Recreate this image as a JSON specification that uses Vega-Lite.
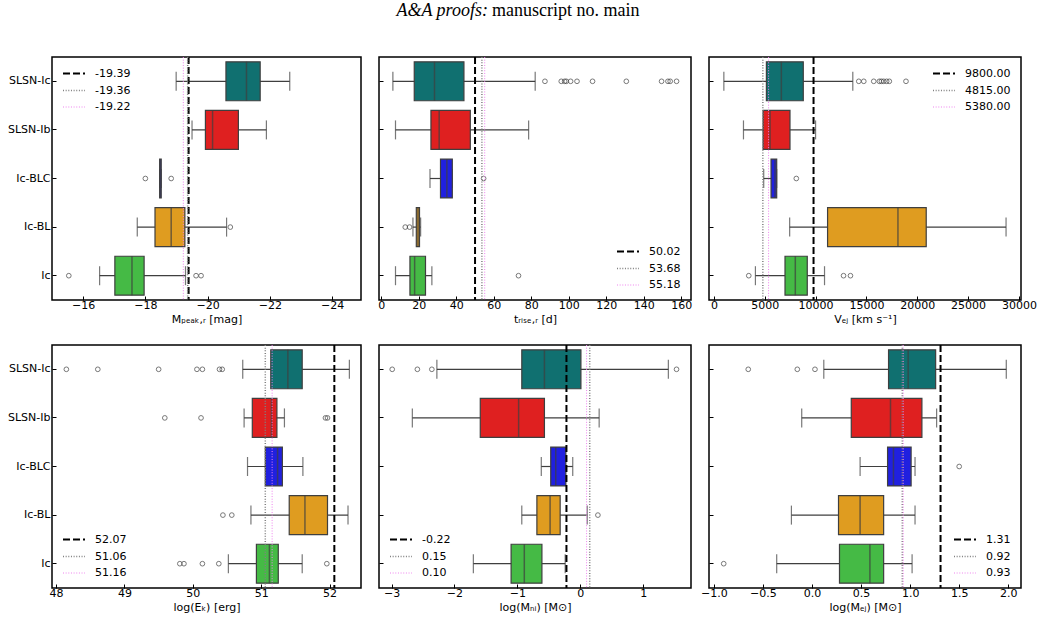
{
"$schema":"https://vega.github.io/schema/vega-lite/v6.json",
"background":"white",
"padding":{"left":6,"top":2,"right":0,"bottom":4},
"title":{"text":"A&A proofs:","font":"Liberation Serif","fontSize":18,"fontStyle":"italic","fontWeight":"normal","color":"#000","anchor":"middle","align":"right","dx":-34,"offset":-18},
"datasets":{
"stats":[
{"p":1,"g":"SLSN-Ic","lo":-18.99,"q1":-20.59,"med":-21.25,"q3":-21.69,"hi":-22.64},
{"p":1,"g":"SLSN-Ib","lo":-19.50,"q1":-19.93,"med":-20.16,"q3":-20.99,"hi":-21.89},
{"p":1,"g":"Ic-BLC","lo":-18.46,"q1":-18.46,"med":-18.48,"q3":-18.51,"hi":-18.51},
{"p":1,"g":"Ic-BL","lo":-17.74,"q1":-18.31,"med":-18.83,"q3":-19.27,"hi":-20.61},
{"p":1,"g":"Ic","lo":-16.53,"q1":-17.02,"med":-17.57,"q3":-17.96,"hi":-19.29},
{"p":2,"g":"SLSN-Ic","lo":6.2,"q1":17.6,"med":28.4,"q3":44.1,"hi":82.1},
{"p":2,"g":"SLSN-Ib","lo":7.6,"q1":26.5,"med":30.9,"q3":47.5,"hi":78.6},
{"p":2,"g":"Ic-BLC","lo":26.0,"q1":31.6,"med":35.0,"q3":37.9,"hi":37.9},
{"p":2,"g":"Ic-BL","lo":16.9,"q1":18.7,"med":19.6,"q3":20.4,"hi":21.0},
{"p":2,"g":"Ic","lo":7.6,"q1":15.3,"med":17.8,"q3":23.6,"hi":27.0},
{"p":3,"g":"SLSN-Ic","lo":980,"q1":5163,"med":6634,"q3":8791,"hi":13660},
{"p":3,"g":"SLSN-Ib","lo":2910,"q1":4837,"med":5523,"q3":7484,"hi":10000},
{"p":3,"g":"Ic-BLC","lo":4900,"q1":5621,"med":6013,"q3":6177,"hi":6177},
{"p":3,"g":"Ic-BL","lo":7451,"q1":11180,"med":18100,"q3":20880,"hi":28730},
{"p":3,"g":"Ic","lo":4085,"q1":6994,"med":8007,"q3":9183,"hi":10880},
{"p":4,"g":"SLSN-Ic","lo":50.73,"q1":51.14,"med":51.39,"q3":51.60,"hi":52.29},
{"p":4,"g":"SLSN-Ib","lo":50.75,"q1":50.87,"med":51.15,"q3":51.23,"hi":51.34},
{"p":4,"g":"Ic-BLC","lo":50.80,"q1":51.06,"med":51.24,"q3":51.31,"hi":51.61},
{"p":4,"g":"Ic-BL","lo":50.85,"q1":51.41,"med":51.64,"q3":51.97,"hi":52.27},
{"p":4,"g":"Ic","lo":50.52,"q1":50.93,"med":51.12,"q3":51.25,"hi":51.60},
{"p":5,"g":"SLSN-Ic","lo":-2.28,"q1":-0.93,"med":-0.57,"q3":0.01,"hi":1.40},
{"p":5,"g":"SLSN-Ib","lo":-2.67,"q1":-1.59,"med":-0.98,"q3":-0.57,"hi":0.30},
{"p":5,"g":"Ic-BLC","lo":-0.62,"q1":-0.47,"med":-0.39,"q3":-0.23,"hi":-0.12},
{"p":5,"g":"Ic-BL","lo":-0.93,"q1":-0.69,"med":-0.48,"q3":-0.32,"hi":0.11},
{"p":5,"g":"Ic","lo":-1.70,"q1":-1.10,"med":-0.89,"q3":-0.61,"hi":-0.24},
{"p":6,"g":"SLSN-Ic","lo":0.12,"q1":0.78,"med":0.98,"q3":1.26,"hi":1.98},
{"p":6,"g":"SLSN-Ib","lo":-0.105,"q1":0.40,"med":0.80,"q3":1.12,"hi":1.27},
{"p":6,"g":"Ic-BLC","lo":0.49,"q1":0.77,"med":0.83,"q3":1.01,"hi":1.05},
{"p":6,"g":"Ic-BL","lo":-0.21,"q1":0.27,"med":0.49,"q3":0.73,"hi":1.05},
{"p":6,"g":"Ic","lo":-0.36,"q1":0.28,"med":0.59,"q3":0.73,"hi":1.02}
],
"out":[
{"p":1,"g":"Ic-BLC","v":-18.0},{"p":1,"g":"Ic-BLC","v":-18.83},{"p":1,"g":"Ic-BL","v":-20.73},
{"p":1,"g":"Ic","v":-15.54},{"p":1,"g":"Ic","v":-19.63},{"p":1,"g":"Ic","v":-19.79},
{"p":2,"g":"SLSN-Ic","v":87.3},{"p":2,"g":"SLSN-Ic","v":96.0},{"p":2,"g":"SLSN-Ic","v":97.8},{"p":2,"g":"SLSN-Ic","v":98.7},{"p":2,"g":"SLSN-Ic","v":101.0},{"p":2,"g":"SLSN-Ic","v":104.4},{"p":2,"g":"SLSN-Ic","v":112.7},{"p":2,"g":"SLSN-Ic","v":130.7},{"p":2,"g":"SLSN-Ic","v":149.5},{"p":2,"g":"SLSN-Ic","v":152.9},{"p":2,"g":"SLSN-Ic","v":154.1},{"p":2,"g":"SLSN-Ic","v":157.5},
{"p":2,"g":"Ic-BLC","v":54.6},{"p":2,"g":"Ic-BL","v":12.8},{"p":2,"g":"Ic-BL","v":15.1},{"p":2,"g":"Ic","v":73.2},
{"p":3,"g":"SLSN-Ic","v":14250},{"p":3,"g":"SLSN-Ic","v":14740},{"p":3,"g":"SLSN-Ic","v":15720},{"p":3,"g":"SLSN-Ic","v":16270},{"p":3,"g":"SLSN-Ic","v":16470},{"p":3,"g":"SLSN-Ic","v":16700},{"p":3,"g":"SLSN-Ic","v":16990},{"p":3,"g":"SLSN-Ic","v":17250},{"p":3,"g":"SLSN-Ic","v":18890},
{"p":3,"g":"Ic-BLC","v":8105},{"p":3,"g":"Ic","v":3431},{"p":3,"g":"Ic","v":12750},{"p":3,"g":"Ic","v":13430},
{"p":4,"g":"SLSN-Ic","v":48.15},{"p":4,"g":"SLSN-Ic","v":48.61},{"p":4,"g":"SLSN-Ic","v":49.50},{"p":4,"g":"SLSN-Ic","v":50.06},{"p":4,"g":"SLSN-Ic","v":50.14},{"p":4,"g":"SLSN-Ic","v":50.39},{"p":4,"g":"SLSN-Ic","v":50.43},
{"p":4,"g":"SLSN-Ib","v":49.59},{"p":4,"g":"SLSN-Ib","v":50.12},{"p":4,"g":"SLSN-Ib","v":51.94},{"p":4,"g":"SLSN-Ib","v":51.97},
{"p":4,"g":"Ic-BL","v":50.44},{"p":4,"g":"Ic-BL","v":50.57},
{"p":4,"g":"Ic","v":49.81},{"p":4,"g":"Ic","v":49.87},{"p":4,"g":"Ic","v":50.14},{"p":4,"g":"Ic","v":50.38},{"p":4,"g":"Ic","v":51.96},
{"p":5,"g":"SLSN-Ic","v":-2.99},{"p":5,"g":"SLSN-Ic","v":-2.59},{"p":5,"g":"SLSN-Ic","v":-2.36},{"p":5,"g":"SLSN-Ic","v":1.53},{"p":5,"g":"Ic-BL","v":0.28},
{"p":6,"g":"SLSN-Ic","v":-0.65},{"p":6,"g":"SLSN-Ic","v":-0.15},{"p":6,"g":"SLSN-Ic","v":0.03},{"p":6,"g":"Ic-BLC","v":1.50},{"p":6,"g":"Ic","v":-0.90}
],
"refs":[
{"p":1,"lab":"-19.39","v":-19.39},{"p":1,"lab":"-19.36","v":-19.36},{"p":1,"lab":"-19.22","v":-19.22},
{"p":2,"lab":"50.02","v":50.02},{"p":2,"lab":"53.68","v":53.68},{"p":2,"lab":"55.18","v":55.18},
{"p":3,"lab":"9800.00","v":9800},{"p":3,"lab":"4815.00","v":4815},{"p":3,"lab":"5380.00","v":5380},
{"p":4,"lab":"52.07","v":52.07},{"p":4,"lab":"51.06","v":51.06},{"p":4,"lab":"51.16","v":51.16},
{"p":5,"lab":"-0.22","v":-0.22},{"p":5,"lab":"0.15","v":0.15},{"p":5,"lab":"0.10","v":0.10},
{"p":6,"lab":"1.31","v":1.31},{"p":6,"lab":"0.92","v":0.92},{"p":6,"lab":"0.93","v":0.93}
]
},
"vconcat":[
{"title":{"text":"manuscript no. main","font":"Liberation Serif","fontSize":18,"fontStyle":"normal","fontWeight":"normal","color":"#000","anchor":"middle","align":"left","dx":-30,"offset":35},
"hconcat":[
{"width":309,"height":243,
"layer":[
{"data":{"name":"stats"},"transform":[{"filter":"datum.p==1"}],"mark":{"type":"rule","color":"#3f3f3f","strokeWidth":1.2},"encoding":{"y":{"field":"g","type":"nominal","title":null,"scale":{"domain":["SLSN-Ic","SLSN-Ib","Ic-BLC","Ic-BL","Ic"],"paddingInner":0,"paddingOuter":0},"axis":{"labels":true}},"x":{"field":"lo","type":"quantitative","title":"Mₚₑₐₖ,ᵣ [mag]","scale":{"domain":[-24.93,-15],"reverse":true,"nice":false,"zero":false},"axis":{"values":[-16,-18,-20,-22,-24],"tickCount":12,"format":"d","labelOverlap":false}},"x2":{"field":"hi"}}},
{"data":{"name":"stats"},"transform":[{"filter":"datum.p==1"}],"mark":{"type":"tick","color":"#3f3f3f","size":19,"thickness":1.2},"encoding":{"y":{"field":"g","type":"nominal"},"x":{"field":"lo","type":"quantitative"}}},
{"data":{"name":"stats"},"transform":[{"filter":"datum.p==1"}],"mark":{"type":"tick","color":"#3f3f3f","size":19,"thickness":1.2},"encoding":{"y":{"field":"g","type":"nominal"},"x":{"field":"hi","type":"quantitative"}}},
{"data":{"name":"stats"},"transform":[{"filter":"datum.p==1"}],"mark":{"type":"bar","height":{"band":0.8},"stroke":"#3f3f3f","strokeWidth":1.2},"encoding":{"y":{"field":"g","type":"nominal"},"x":{"field":"q1","type":"quantitative"},"x2":{"field":"q3"},"fill":{"field":"g","type":"nominal","legend":null,"scale":{"domain":["SLSN-Ic","SLSN-Ib","Ic-BLC","Ic-BL","Ic"],"range":["#107070","#df2020","#2020df","#df9c20","#45ba45"]}}}},
{"data":{"name":"stats"},"transform":[{"filter":"datum.p==1"}],"mark":{"type":"tick","color":"#3f3f3f","size":39,"thickness":1.5},"encoding":{"y":{"field":"g","type":"nominal"},"x":{"field":"med","type":"quantitative"}}},
{"data":{"name":"out"},"transform":[{"filter":"datum.p==1"}],"mark":{"type":"point","shape":"circle","filled":false,"color":"#3f3f3f","size":22,"strokeWidth":1},"encoding":{"y":{"field":"g","type":"nominal"},"x":{"field":"v","type":"quantitative"}}},
{"data":{"name":"refs"},"transform":[{"filter":"datum.p==1"}],"mark":{"type":"rule"},"encoding":{"x":{"field":"v","type":"quantitative"},
"color":{"field":"lab","type":"ordinal","scale":{"domain":["-19.39","-19.36","-19.22"],"range":["#000000","#808080","#ee82ee"]},"legend":{"title":null,"orient":"top-left"}},
"strokeDash":{"field":"lab","type":"ordinal","scale":{"domain":["-19.39","-19.36","-19.22"],"range":[[7,3],[1,1.65],[1,1.65]]},"legend":{"title":null,"orient":"top-left"}},
"strokeWidth":{"field":"lab","type":"ordinal","scale":{"domain":["-19.39","-19.36","-19.22"],"range":[2,1,1]},"legend":{"title":null,"orient":"top-left"}}}}
]},
{"width":312,"height":243,
"layer":[
{"data":{"name":"stats"},"transform":[{"filter":"datum.p==2"}],"mark":{"type":"rule","color":"#3f3f3f","strokeWidth":1.2},"encoding":{"y":{"field":"g","type":"nominal","title":null,"scale":{"domain":["SLSN-Ic","SLSN-Ib","Ic-BLC","Ic-BL","Ic"],"paddingInner":0,"paddingOuter":0},"axis":{"labels":false}},"x":{"field":"lo","type":"quantitative","title":"tᵣᵢₛₑ,ᵣ [d]","scale":{"domain":[-1.2,165.2],"nice":false,"zero":false},"axis":{"values":[0,20,40,60,80,100,120,140,160],"tickCount":12,"format":"d","labelOverlap":false}},"x2":{"field":"hi"}}},
{"data":{"name":"stats"},"transform":[{"filter":"datum.p==2"}],"mark":{"type":"tick","color":"#3f3f3f","size":19,"thickness":1.2},"encoding":{"y":{"field":"g","type":"nominal"},"x":{"field":"lo","type":"quantitative"}}},
{"data":{"name":"stats"},"transform":[{"filter":"datum.p==2"}],"mark":{"type":"tick","color":"#3f3f3f","size":19,"thickness":1.2},"encoding":{"y":{"field":"g","type":"nominal"},"x":{"field":"hi","type":"quantitative"}}},
{"data":{"name":"stats"},"transform":[{"filter":"datum.p==2"}],"mark":{"type":"bar","height":{"band":0.8},"stroke":"#3f3f3f","strokeWidth":1.2},"encoding":{"y":{"field":"g","type":"nominal"},"x":{"field":"q1","type":"quantitative"},"x2":{"field":"q3"},"fill":{"field":"g","type":"nominal","legend":null,"scale":{"domain":["SLSN-Ic","SLSN-Ib","Ic-BLC","Ic-BL","Ic"],"range":["#107070","#df2020","#2020df","#df9c20","#45ba45"]}}}},
{"data":{"name":"stats"},"transform":[{"filter":"datum.p==2"}],"mark":{"type":"tick","color":"#3f3f3f","size":39,"thickness":1.5},"encoding":{"y":{"field":"g","type":"nominal"},"x":{"field":"med","type":"quantitative"}}},
{"data":{"name":"out"},"transform":[{"filter":"datum.p==2"}],"mark":{"type":"point","shape":"circle","filled":false,"color":"#3f3f3f","size":22,"strokeWidth":1},"encoding":{"y":{"field":"g","type":"nominal"},"x":{"field":"v","type":"quantitative"}}},
{"data":{"name":"refs"},"transform":[{"filter":"datum.p==2"}],"mark":{"type":"rule"},"encoding":{"x":{"field":"v","type":"quantitative"},
"color":{"field":"lab","type":"ordinal","scale":{"domain":["50.02","53.68","55.18"],"range":["#000000","#808080","#ee82ee"]},"legend":{"title":null,"orient":"bottom-right"}},
"strokeDash":{"field":"lab","type":"ordinal","scale":{"domain":["50.02","53.68","55.18"],"range":[[7,3],[1,1.65],[1,1.65]]},"legend":{"title":null,"orient":"bottom-right"}},
"strokeWidth":{"field":"lab","type":"ordinal","scale":{"domain":["50.02","53.68","55.18"],"range":[2,1,1]},"legend":{"title":null,"orient":"bottom-right"}}}}
]},
{"width":312,"height":243,
"layer":[
{"data":{"name":"stats"},"transform":[{"filter":"datum.p==3"}],"mark":{"type":"rule","color":"#3f3f3f","strokeWidth":1.2},"encoding":{"y":{"field":"g","type":"nominal","title":null,"scale":{"domain":["SLSN-Ic","SLSN-Ib","Ic-BLC","Ic-BL","Ic"],"paddingInner":0,"paddingOuter":0},"axis":{"labels":false}},"x":{"field":"lo","type":"quantitative","title":"Vₑⱼ [km s⁻¹]","scale":{"domain":[-480,30200],"nice":false,"zero":false},"axis":{"values":[0,5000,10000,15000,20000,25000,30000],"tickCount":12,"format":"d","labelOverlap":false}},"x2":{"field":"hi"}}},
{"data":{"name":"stats"},"transform":[{"filter":"datum.p==3"}],"mark":{"type":"tick","color":"#3f3f3f","size":19,"thickness":1.2},"encoding":{"y":{"field":"g","type":"nominal"},"x":{"field":"lo","type":"quantitative"}}},
{"data":{"name":"stats"},"transform":[{"filter":"datum.p==3"}],"mark":{"type":"tick","color":"#3f3f3f","size":19,"thickness":1.2},"encoding":{"y":{"field":"g","type":"nominal"},"x":{"field":"hi","type":"quantitative"}}},
{"data":{"name":"stats"},"transform":[{"filter":"datum.p==3"}],"mark":{"type":"bar","height":{"band":0.8},"stroke":"#3f3f3f","strokeWidth":1.2},"encoding":{"y":{"field":"g","type":"nominal"},"x":{"field":"q1","type":"quantitative"},"x2":{"field":"q3"},"fill":{"field":"g","type":"nominal","legend":null,"scale":{"domain":["SLSN-Ic","SLSN-Ib","Ic-BLC","Ic-BL","Ic"],"range":["#107070","#df2020","#2020df","#df9c20","#45ba45"]}}}},
{"data":{"name":"stats"},"transform":[{"filter":"datum.p==3"}],"mark":{"type":"tick","color":"#3f3f3f","size":39,"thickness":1.5},"encoding":{"y":{"field":"g","type":"nominal"},"x":{"field":"med","type":"quantitative"}}},
{"data":{"name":"out"},"transform":[{"filter":"datum.p==3"}],"mark":{"type":"point","shape":"circle","filled":false,"color":"#3f3f3f","size":22,"strokeWidth":1},"encoding":{"y":{"field":"g","type":"nominal"},"x":{"field":"v","type":"quantitative"}}},
{"data":{"name":"refs"},"transform":[{"filter":"datum.p==3"}],"mark":{"type":"rule"},"encoding":{"x":{"field":"v","type":"quantitative"},
"color":{"field":"lab","type":"ordinal","scale":{"domain":["9800.00","4815.00","5380.00"],"range":["#000000","#808080","#ee82ee"]},"legend":{"title":null,"orient":"top-right"}},
"strokeDash":{"field":"lab","type":"ordinal","scale":{"domain":["9800.00","4815.00","5380.00"],"range":[[7,3],[1,1.65],[1,1.65]]},"legend":{"title":null,"orient":"top-right"}},
"strokeWidth":{"field":"lab","type":"ordinal","scale":{"domain":["9800.00","4815.00","5380.00"],"range":[2,1,1]},"legend":{"title":null,"orient":"top-right"}}}}
]}
],"spacing":18,"bounds":"flush",
"resolve":{"scale":{"x":"independent","y":"independent","fill":"independent","color":"independent","strokeDash":"independent","strokeWidth":"independent"}}},
{"hconcat":[
{"width":309,"height":243,
"layer":[
{"data":{"name":"stats"},"transform":[{"filter":"datum.p==4"}],"mark":{"type":"rule","color":"#3f3f3f","strokeWidth":1.2},"encoding":{"y":{"field":"g","type":"nominal","title":null,"scale":{"domain":["SLSN-Ic","SLSN-Ib","Ic-BLC","Ic-BL","Ic"],"paddingInner":0,"paddingOuter":0},"axis":{"labels":true}},"x":{"field":"lo","type":"quantitative","title":"log(Eₖ) [erg]","scale":{"domain":[47.94,52.46],"nice":false,"zero":false},"axis":{"values":[48,49,50,51,52],"tickCount":12,"format":"d","labelOverlap":false}},"x2":{"field":"hi"}}},
{"data":{"name":"stats"},"transform":[{"filter":"datum.p==4"}],"mark":{"type":"tick","color":"#3f3f3f","size":19,"thickness":1.2},"encoding":{"y":{"field":"g","type":"nominal"},"x":{"field":"lo","type":"quantitative"}}},
{"data":{"name":"stats"},"transform":[{"filter":"datum.p==4"}],"mark":{"type":"tick","color":"#3f3f3f","size":19,"thickness":1.2},"encoding":{"y":{"field":"g","type":"nominal"},"x":{"field":"hi","type":"quantitative"}}},
{"data":{"name":"stats"},"transform":[{"filter":"datum.p==4"}],"mark":{"type":"bar","height":{"band":0.8},"stroke":"#3f3f3f","strokeWidth":1.2},"encoding":{"y":{"field":"g","type":"nominal"},"x":{"field":"q1","type":"quantitative"},"x2":{"field":"q3"},"fill":{"field":"g","type":"nominal","legend":null,"scale":{"domain":["SLSN-Ic","SLSN-Ib","Ic-BLC","Ic-BL","Ic"],"range":["#107070","#df2020","#2020df","#df9c20","#45ba45"]}}}},
{"data":{"name":"stats"},"transform":[{"filter":"datum.p==4"}],"mark":{"type":"tick","color":"#3f3f3f","size":39,"thickness":1.5},"encoding":{"y":{"field":"g","type":"nominal"},"x":{"field":"med","type":"quantitative"}}},
{"data":{"name":"out"},"transform":[{"filter":"datum.p==4"}],"mark":{"type":"point","shape":"circle","filled":false,"color":"#3f3f3f","size":22,"strokeWidth":1},"encoding":{"y":{"field":"g","type":"nominal"},"x":{"field":"v","type":"quantitative"}}},
{"data":{"name":"refs"},"transform":[{"filter":"datum.p==4"}],"mark":{"type":"rule"},"encoding":{"x":{"field":"v","type":"quantitative"},
"color":{"field":"lab","type":"ordinal","scale":{"domain":["52.07","51.06","51.16"],"range":["#000000","#808080","#ee82ee"]},"legend":{"title":null,"orient":"bottom-left"}},
"strokeDash":{"field":"lab","type":"ordinal","scale":{"domain":["52.07","51.06","51.16"],"range":[[7,3],[1,1.65],[1,1.65]]},"legend":{"title":null,"orient":"bottom-left"}},
"strokeWidth":{"field":"lab","type":"ordinal","scale":{"domain":["52.07","51.06","51.16"],"range":[2,1,1]},"legend":{"title":null,"orient":"bottom-left"}}}}
]},
{"width":312,"height":243,
"layer":[
{"data":{"name":"stats"},"transform":[{"filter":"datum.p==5"}],"mark":{"type":"rule","color":"#3f3f3f","strokeWidth":1.2},"encoding":{"y":{"field":"g","type":"nominal","title":null,"scale":{"domain":["SLSN-Ic","SLSN-Ib","Ic-BLC","Ic-BL","Ic"],"paddingInner":0,"paddingOuter":0},"axis":{"labels":false}},"x":{"field":"lo","type":"quantitative","title":"log(Mₙᵢ) [M⊙]","scale":{"domain":[-3.2,1.76],"nice":false,"zero":false},"axis":{"values":[-3,-2,-1,0,1],"tickCount":12,"format":"d","labelOverlap":false}},"x2":{"field":"hi"}}},
{"data":{"name":"stats"},"transform":[{"filter":"datum.p==5"}],"mark":{"type":"tick","color":"#3f3f3f","size":19,"thickness":1.2},"encoding":{"y":{"field":"g","type":"nominal"},"x":{"field":"lo","type":"quantitative"}}},
{"data":{"name":"stats"},"transform":[{"filter":"datum.p==5"}],"mark":{"type":"tick","color":"#3f3f3f","size":19,"thickness":1.2},"encoding":{"y":{"field":"g","type":"nominal"},"x":{"field":"hi","type":"quantitative"}}},
{"data":{"name":"stats"},"transform":[{"filter":"datum.p==5"}],"mark":{"type":"bar","height":{"band":0.8},"stroke":"#3f3f3f","strokeWidth":1.2},"encoding":{"y":{"field":"g","type":"nominal"},"x":{"field":"q1","type":"quantitative"},"x2":{"field":"q3"},"fill":{"field":"g","type":"nominal","legend":null,"scale":{"domain":["SLSN-Ic","SLSN-Ib","Ic-BLC","Ic-BL","Ic"],"range":["#107070","#df2020","#2020df","#df9c20","#45ba45"]}}}},
{"data":{"name":"stats"},"transform":[{"filter":"datum.p==5"}],"mark":{"type":"tick","color":"#3f3f3f","size":39,"thickness":1.5},"encoding":{"y":{"field":"g","type":"nominal"},"x":{"field":"med","type":"quantitative"}}},
{"data":{"name":"out"},"transform":[{"filter":"datum.p==5"}],"mark":{"type":"point","shape":"circle","filled":false,"color":"#3f3f3f","size":22,"strokeWidth":1},"encoding":{"y":{"field":"g","type":"nominal"},"x":{"field":"v","type":"quantitative"}}},
{"data":{"name":"refs"},"transform":[{"filter":"datum.p==5"}],"mark":{"type":"rule"},"encoding":{"x":{"field":"v","type":"quantitative"},
"color":{"field":"lab","type":"ordinal","scale":{"domain":["-0.22","0.15","0.10"],"range":["#000000","#808080","#ee82ee"]},"legend":{"title":null,"orient":"bottom-left"}},
"strokeDash":{"field":"lab","type":"ordinal","scale":{"domain":["-0.22","0.15","0.10"],"range":[[7,3],[1,1.65],[1,1.65]]},"legend":{"title":null,"orient":"bottom-left"}},
"strokeWidth":{"field":"lab","type":"ordinal","scale":{"domain":["-0.22","0.15","0.10"],"range":[2,1,1]},"legend":{"title":null,"orient":"bottom-left"}}}}
]},
{"width":312,"height":243,
"layer":[
{"data":{"name":"stats"},"transform":[{"filter":"datum.p==6"}],"mark":{"type":"rule","color":"#3f3f3f","strokeWidth":1.2},"encoding":{"y":{"field":"g","type":"nominal","title":null,"scale":{"domain":["SLSN-Ic","SLSN-Ib","Ic-BLC","Ic-BL","Ic"],"paddingInner":0,"paddingOuter":0},"axis":{"labels":false}},"x":{"field":"lo","type":"quantitative","title":"log(Mₑⱼ) [M⊙]","scale":{"domain":[-1.05,2.13],"nice":false,"zero":false},"axis":{"values":[-1,-0.5,0,0.5,1,1.5,2],"tickCount":12,"format":".1f","labelOverlap":false}},"x2":{"field":"hi"}}},
{"data":{"name":"stats"},"transform":[{"filter":"datum.p==6"}],"mark":{"type":"tick","color":"#3f3f3f","size":19,"thickness":1.2},"encoding":{"y":{"field":"g","type":"nominal"},"x":{"field":"lo","type":"quantitative"}}},
{"data":{"name":"stats"},"transform":[{"filter":"datum.p==6"}],"mark":{"type":"tick","color":"#3f3f3f","size":19,"thickness":1.2},"encoding":{"y":{"field":"g","type":"nominal"},"x":{"field":"hi","type":"quantitative"}}},
{"data":{"name":"stats"},"transform":[{"filter":"datum.p==6"}],"mark":{"type":"bar","height":{"band":0.8},"stroke":"#3f3f3f","strokeWidth":1.2},"encoding":{"y":{"field":"g","type":"nominal"},"x":{"field":"q1","type":"quantitative"},"x2":{"field":"q3"},"fill":{"field":"g","type":"nominal","legend":null,"scale":{"domain":["SLSN-Ic","SLSN-Ib","Ic-BLC","Ic-BL","Ic"],"range":["#107070","#df2020","#2020df","#df9c20","#45ba45"]}}}},
{"data":{"name":"stats"},"transform":[{"filter":"datum.p==6"}],"mark":{"type":"tick","color":"#3f3f3f","size":39,"thickness":1.5},"encoding":{"y":{"field":"g","type":"nominal"},"x":{"field":"med","type":"quantitative"}}},
{"data":{"name":"out"},"transform":[{"filter":"datum.p==6"}],"mark":{"type":"point","shape":"circle","filled":false,"color":"#3f3f3f","size":22,"strokeWidth":1},"encoding":{"y":{"field":"g","type":"nominal"},"x":{"field":"v","type":"quantitative"}}},
{"data":{"name":"refs"},"transform":[{"filter":"datum.p==6"}],"mark":{"type":"rule"},"encoding":{"x":{"field":"v","type":"quantitative"},
"color":{"field":"lab","type":"ordinal","scale":{"domain":["1.31","0.92","0.93"],"range":["#000000","#808080","#ee82ee"]},"legend":{"title":null,"orient":"bottom-right"}},
"strokeDash":{"field":"lab","type":"ordinal","scale":{"domain":["1.31","0.92","0.93"],"range":[[7,3],[1,1.65],[1,1.65]]},"legend":{"title":null,"orient":"bottom-right"}},
"strokeWidth":{"field":"lab","type":"ordinal","scale":{"domain":["1.31","0.92","0.93"],"range":[2,1,1]},"legend":{"title":null,"orient":"bottom-right"}}}}
]}
],"spacing":18,"bounds":"flush",
"resolve":{"scale":{"x":"independent","y":"independent","fill":"independent","color":"independent","strokeDash":"independent","strokeWidth":"independent"}}}
],
"spacing":18,
"resolve":{"scale":{"x":"independent","y":"independent","fill":"independent","color":"independent","strokeDash":"independent","strokeWidth":"independent"}},
"config":{
"font":"DejaVu Sans",
"view":{"stroke":"#000","strokeWidth":1.5},
"axis":{"domain":false,"grid":false,"tickColor":"#000","tickSize":-4,"tickWidth":1,"labelFont":"DejaVu Sans","labelFontSize":11,"labelColor":"#000","labelPadding":3,"titleFont":"DejaVu Sans","titleFontSize":11,"titleFontWeight":"normal","titleColor":"#000","titlePadding":3,"labelFlush":false,"labelOverlap":false},
"axisY":{"labelPadding":6},
"legend":{"offset":10,"padding":0,"symbolType":"M-1,0H3","symbolSize":121,"labelOffset":20,"rowPadding":5,"labelFont":"DejaVu Sans","labelFontSize":11,"labelColor":"#000","symbolFillColor":"transparent"}
}
}
